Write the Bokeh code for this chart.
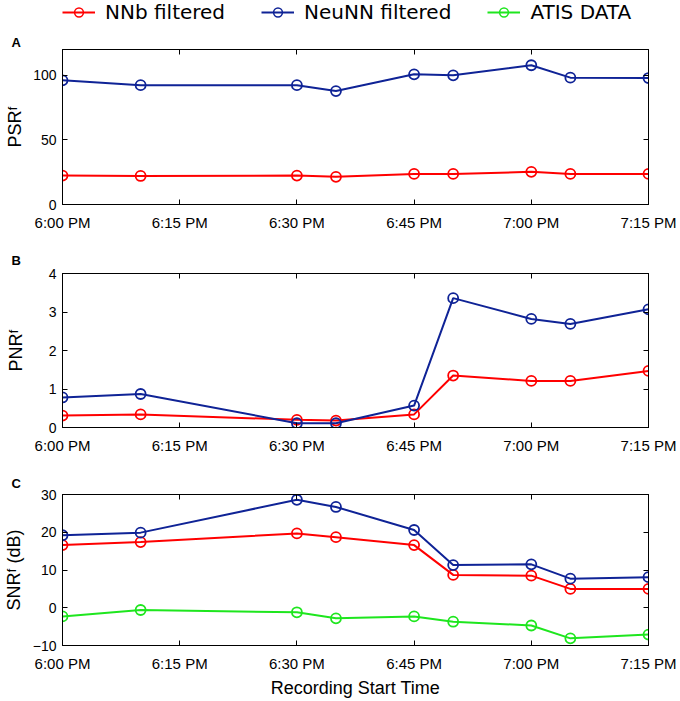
from bokeh.plotting import figure
from bokeh.layouts import column
from bokeh.models import (ColumnDataSource, Range1d, FixedTicker, LinearAxis,
                          Legend, LegendItem)
from bokeh.embed import file_html
from bokeh.resources import INLINE

# ---------------- data ----------------
record_times = ["6:00 PM", "6:10 PM", "6:30 PM", "6:35 PM", "6:45 PM",
                "6:50 PM", "7:00 PM", "7:05 PM", "7:15 PM"]
tick_labels = ["6:00 PM", "6:15 PM", "6:30 PM", "6:45 PM", "7:00 PM", "7:15 PM"]

series_names = ["NNb filtered", "NeuNN filtered", "ATIS DATA"]
series_colors = ["#ff0000", "#0f2396", "#1ee61e"]

psr_nnb = [22.4, 22.1, 22.4, 21.4, 23.7, 23.7, 25.3, 23.7, 23.7]
psr_neunn = [96.1, 92.4, 92.4, 87.8, 100.8, 100.0, 107.8, 98.2, 97.9]

pnr_nnb = [0.31, 0.34, 0.20, 0.18, 0.34, 1.35, 1.21, 1.21, 1.47]
pnr_neunn = [0.78, 0.87, 0.11, 0.11, 0.57, 3.36, 2.82, 2.69, 3.07]

snr_nnb = [16.6, 17.4, 19.7, 18.7, 16.6, 8.7, 8.5, 5.0, 5.0]
snr_neunn = [19.2, 19.9, 28.6, 26.7, 20.6, 11.3, 11.5, 7.7, 8.1]
snr_atis = [-2.3, -0.6, -1.2, -2.8, -2.3, -3.7, -4.7, -8.1, -7.1]

psr_ticks = [0, 50, 100]
pnr_ticks = [0, 1, 2, 3, 4]
snr_ticks = [-10, 0, 10, 20, 30]


def to_minutes(s):
    hm, ampm = s.split()
    h, m = map(int, hm.split(":"))
    if ampm == "PM" and h != 12:
        h += 12
    return (h - 18) * 60 + m


x_vals = [to_minutes(t) for t in record_times]
x_ticks = [to_minutes(t) for t in tick_labels]
x_overrides = {t: lab for t, lab in zip(x_ticks, tick_labels)}

W = 680
FONT = "Liberation Sans"


def style_axis(ax, ticks):
    ax.ticker = FixedTicker(ticks=ticks)
    ax.major_tick_in = 5
    ax.major_tick_out = 0
    ax.minor_tick_line_color = None
    ax.axis_line_color = "black"
    ax.major_tick_line_color = "black"
    ax.major_label_text_font = FONT
    ax.major_label_text_color = "#000000"


def blank_axis(ticks):
    ax = LinearAxis()
    style_axis(ax, ticks)
    ax.major_label_overrides = {t: "" for t in ticks}
    ax.major_label_text_font_size = "2px"
    ax.major_label_standoff = 0
    return ax


def panel(letter, letter_standoff, ylabel, ylabel_standoff, series, yr,
          yticks, height, top, bottom, xlabel=None):
    p = figure(width=W, height=height, output_backend="svg",
               toolbar_location=None,
               x_range=Range1d(0, 75), y_range=Range1d(*yr),
               min_border_left=59, min_border_right=32,
               min_border_top=top, min_border_bottom=bottom)
    p.grid.visible = False
    p.outline_line_color = "black"
    p.outline_line_alpha = 1
    p.outline_line_width = 1
    p.background_fill_color = "white"
    p.border_fill_color = "white"

    for vals, color in series:
        src = ColumnDataSource(dict(x=x_vals, y=vals))
        p.line("x", "y", source=src, line_color=color, line_width=2)
        p.scatter("x", "y", source=src, marker="circle", size=10,
                  fill_color=None, line_color=color, line_width=1.8)

    xa = p.xaxis[0]
    style_axis(xa, x_ticks)
    xa.major_label_overrides = x_overrides
    xa.major_label_text_font_size = "15px"
    xa.major_label_standoff = 9
    ya = p.yaxis[0]
    style_axis(ya, yticks)
    ya.major_label_text_font_size = "14px"
    ya.major_label_standoff = 6
    ya.axis_label = ylabel
    ya.axis_label_text_font = FONT
    ya.axis_label_text_font_size = "18px"
    ya.axis_label_text_font_style = "normal"
    ya.axis_label_text_color = "#000000"
    ya.axis_label_standoff = ylabel_standoff

    p.add_layout(blank_axis(x_ticks), "above")
    p.add_layout(blank_axis(yticks), "right")

    if xlabel:
        xa.axis_label = xlabel
        xa.axis_label_text_font = FONT
        xa.axis_label_text_font_size = "18px"
        xa.axis_label_text_font_style = "normal"
        xa.axis_label_text_color = "#000000"
        xa.axis_label_standoff = 3

    p.title.text = letter
    p.title.align = "left"
    p.title.offset = -51
    p.title.standoff = letter_standoff
    p.title.text_font = FONT
    p.title.text_font_size = "13px"
    p.title.text_font_style = "bold"
    p.title.text_color = "black"
    return p


# ---------------- legend strip ----------------
leg = figure(width=W, height=24, output_backend="svg", toolbar_location=None,
             x_range=Range1d(0, 1), y_range=Range1d(0, 1),
             x_axis_location=None, y_axis_location=None,
             min_border_left=61, min_border_right=0, min_border_top=0,
             min_border_bottom=0)
leg.grid.visible = False
leg.outline_line_color = None
items = []
for name, color in zip(series_names, series_colors):
    src = ColumnDataSource(dict(x=[-10], y=[-10]))
    r1 = leg.line("x", "y", source=src, line_color=color, line_width=2)
    r2 = leg.scatter("x", "y", source=src, marker="circle", size=8,
                     fill_color=None, line_color=color, line_width=1.5)
    items.append(LegendItem(label=name, renderers=[r1, r2]))
legend = Legend(items=items, orientation="horizontal", location="top_left",
                glyph_width=33, glyph_height=22, label_height=22,
                label_standoff=10, spacing=36, padding=0, margin=0,
                label_text_font="DejaVu Sans", label_text_font_size="20px",
                label_text_color="black",
                border_line_color=None, background_fill_alpha=0)
leg.add_layout(legend, "center")

pA = panel("A", 0, "PSRᶠ", 5,
           [(psr_nnb, series_colors[0]), (psr_neunn, series_colors[1])],
           (0, 120), psr_ticks, 214, 25, 34)
pB = panel("B", 11, "PNRᶠ", 20,
           [(pnr_nnb, series_colors[0]), (pnr_neunn, series_colors[1])],
           (0, 4), pnr_ticks, 222, 35, 33)
pC = panel("C", 7, "SNRᶠ (dB)", 6,
           [(snr_nnb, series_colors[0]), (snr_neunn, series_colors[1]),
            (snr_atis, series_colors[2])],
           (-10, 30), snr_ticks, 240, 34, 54, xlabel="Recording Start Time")

layout = column(leg, pA, pB, pC, spacing=0)
open("out.html", "w").write(file_html(layout, INLINE))
